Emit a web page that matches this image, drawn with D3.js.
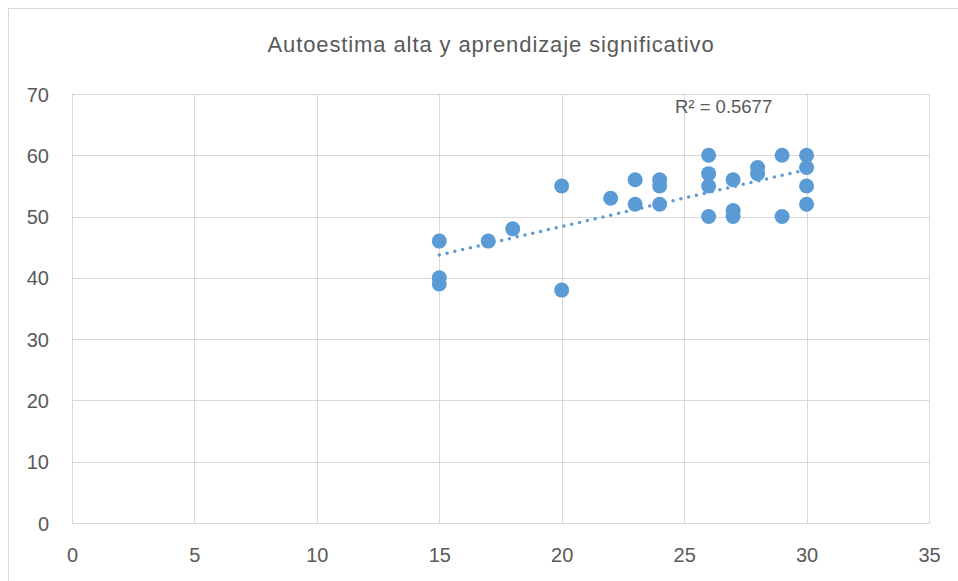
<!DOCTYPE html>
<html>
<head>
<meta charset="utf-8">
<script src="https://cdn.jsdelivr.net/npm/d3@7"></script>
<style>
  body { margin: 0; background: #fff; }
  svg { display: block; font-family: "Liberation Sans", Arial, sans-serif; }
</style>
</head>
<body>
<svg id="chart" width="958" height="581"></svg>
<script>
const chartTitle = "Autoestima alta y aprendizaje significativo";
const xTicks = [0, 5, 10, 15, 20, 25, 30, 35];
const yTicks = [0, 10, 20, 30, 40, 50, 60, 70];
const autoestima = [15, 15, 15, 17, 18, 20, 20, 22, 23, 23, 24, 24, 24, 26, 26, 26, 26, 27, 27, 27, 28, 28, 29, 29, 30, 30, 30, 30];
const aprendizaje = [46, 40, 39, 46, 48, 55, 38, 53, 56, 52, 56, 55, 52, 60, 57, 55, 50, 56, 51, 50, 58, 57, 60, 50, 60, 58, 55, 52];
const r2Label = "R² = 0.5677";

const svg = d3.select("#chart");
const plotLeft = 72, plotRight = 929, plotTop = 94, plotBottom = 523;
const textColor = "#595959";

// chart frame
svg.append("rect")
    .attr("x", 8.5).attr("y", 8.5)
    .attr("width", 960).attr("height", 590)
    .attr("fill", "none").attr("stroke", "#d9d9d9");

const x = d3.scaleLinear().domain([0, 35]).range([plotLeft, plotRight]);
const y = d3.scaleLinear().domain([0, 70]).range([plotBottom, plotTop]);

// gridlines
svg.append("g")
    .selectAll("line")
    .data(xTicks)
    .join("line")
    .attr("x1", d => Math.round(x(d)) + 0.5).attr("x2", d => Math.round(x(d)) + 0.5)
    .attr("y1", plotTop).attr("y2", plotBottom)
    .attr("stroke", "#d9d9d9").attr("stroke-width", 1);

svg.append("g")
    .selectAll("line")
    .data(yTicks)
    .join("line")
    .attr("x1", plotLeft).attr("x2", plotRight + 1)
    .attr("y1", d => Math.round(y(d)) + 0.5).attr("y2", d => Math.round(y(d)) + 0.5)
    .attr("stroke", "#d9d9d9").attr("stroke-width", 1);

// axis labels
const xAxis = d3.axisBottom(x).tickValues(xTicks).tickSize(0).tickPadding(0);
svg.append("g")
    .attr("transform", `translate(0,${plotBottom + 39})`)
    .call(xAxis)
    .call(g => g.select(".domain").remove())
    .selectAll("text")
    .attr("dy", 0)
    .attr("font-size", 20)
    .attr("font-family", "Liberation Sans, Arial, sans-serif")
    .attr("fill", textColor);

const yAxis = d3.axisLeft(y).tickValues(yTicks).tickSize(0).tickPadding(0);
svg.append("g")
    .attr("transform", `translate(${plotLeft - 23},0)`)
    .call(yAxis)
    .call(g => g.select(".domain").remove())
    .selectAll("text")
    .attr("dy", "0.35em")
    .attr("font-size", 20)
    .attr("font-family", "Liberation Sans, Arial, sans-serif")
    .attr("fill", textColor);

// title
svg.append("text")
    .attr("x", 491).attr("y", 52)
    .attr("text-anchor", "middle")
    .attr("font-size", 22)
    .attr("letter-spacing", 0.9)
    .attr("fill", textColor)
    .text(chartTitle);

// linear trend
const n = autoestima.length;
const mx = d3.mean(autoestima), my = d3.mean(aprendizaje);
let sxy = 0, sxx = 0;
for (let i = 0; i < n; i++) {
    sxy += (autoestima[i] - mx) * (aprendizaje[i] - my);
    sxx += (autoestima[i] - mx) ** 2;
}
const slope = sxy / sxx, intercept = my - slope * mx;
const xExt = d3.extent(autoestima);

svg.append("line")
    .attr("x1", x(xExt[0])).attr("y1", y(intercept + slope * xExt[0]))
    .attr("x2", x(xExt[1])).attr("y2", y(intercept + slope * xExt[1]))
    .attr("stroke", "#5b9bd5")
    .attr("stroke-width", 3.5)
    .attr("stroke-linecap", "round")
    .attr("stroke-dasharray", "0,8");

// points
svg.append("g")
    .selectAll("circle")
    .data(autoestima.map((d, i) => [d, aprendizaje[i]]))
    .join("circle")
    .attr("cx", d => x(d[0]))
    .attr("cy", d => y(d[1]))
    .attr("r", 7.5)
    .attr("fill", "#5b9bd5");

// R² label
svg.append("text")
    .attr("x", 675).attr("y", 113)
    .attr("font-size", 18.5)
    .attr("fill", textColor)
    .text(r2Label);
</script>
</body>
</html>
